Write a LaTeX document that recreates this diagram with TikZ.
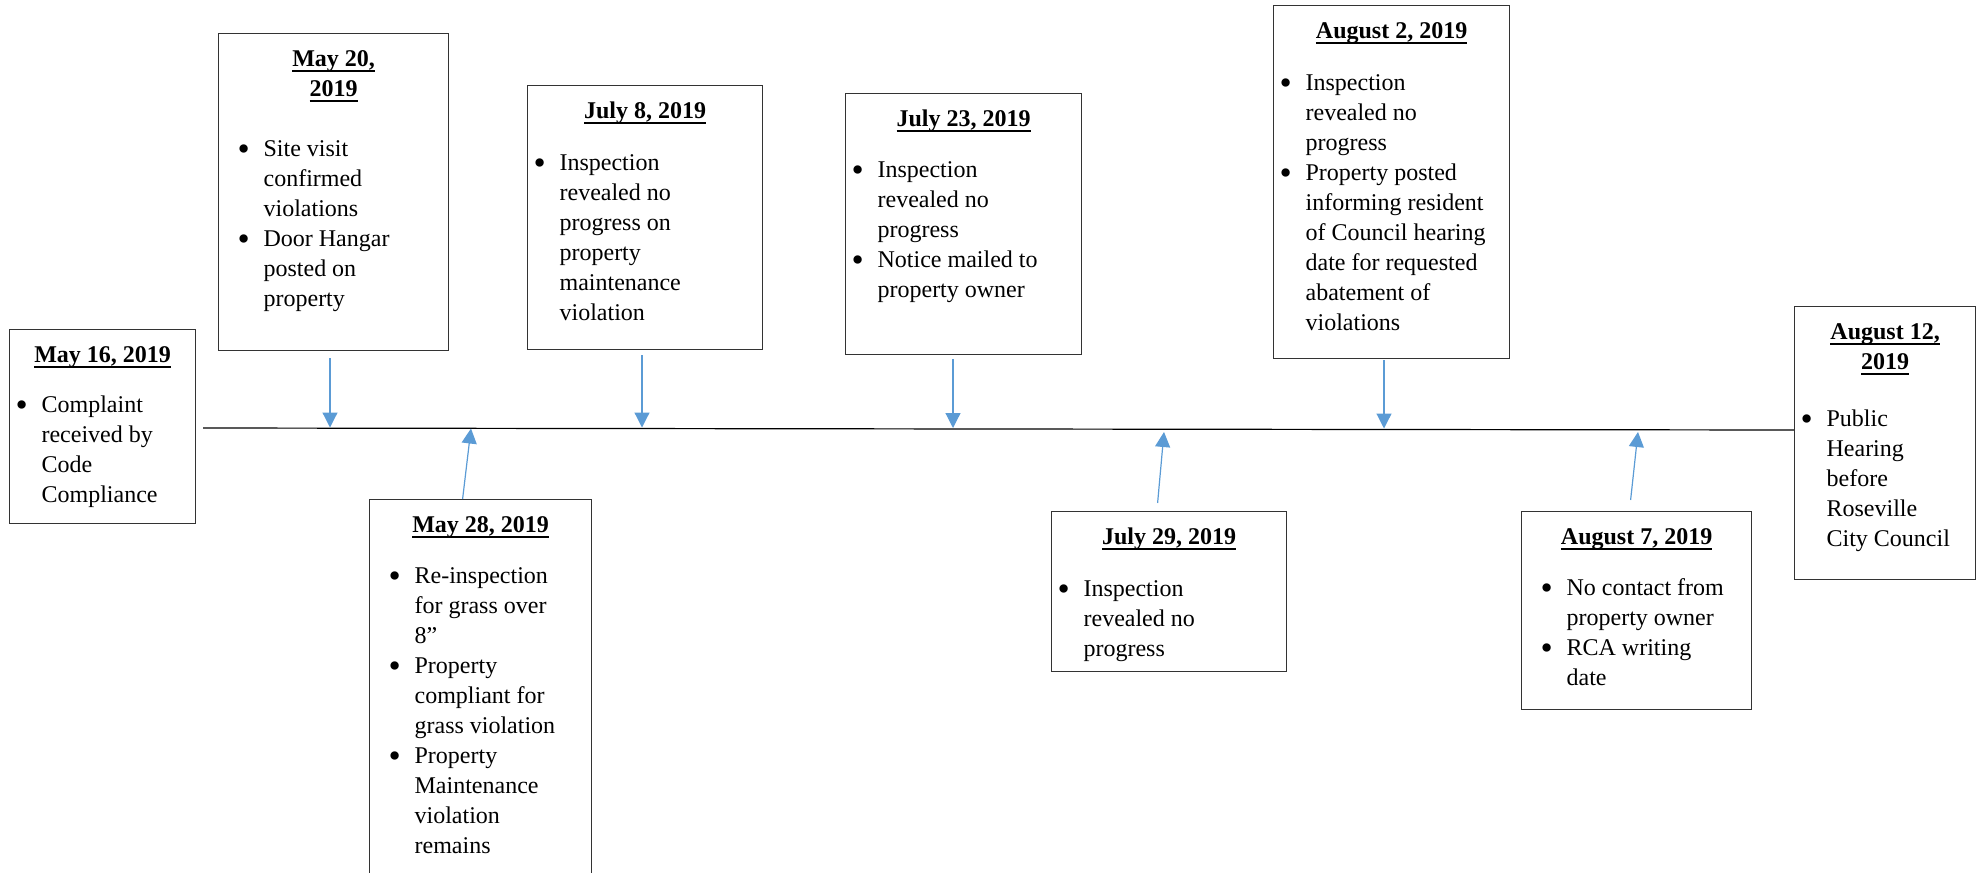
\documentclass[tikz,border=0pt]{standalone}
\usepackage{fontspec}
\usepackage{graphicx}
\setmainfont{Liberation Serif}
\usetikzlibrary{arrows.meta}
\definecolor{arrowblue}{HTML}{5B9BD5}

\newcommand{\evul}[1]{\leavevmode\setbox0=\hbox{#1}\rlap{\rule[-2.6pt]{\wd0}{1.1pt}}\box0}
\newcommand{\evitem}[1]{\par\noindent\hangindent=16pt\hangafter=1
  \hbox to 16pt{\hskip3pt\raisebox{-2pt}{\scalebox{1.45}{\textbullet}}\hss}#1\par}
% #1 width, #2 height, #3 indent, #4 gap under the date, #5 date, #6 items
\newcommand{\evtext}[6]{\parbox[c][#2][t]{#1}{\fontsize{12}{15}\selectfont
  {\centering\bfseries\rule{0pt}{16.5pt}#5\par}\vspace{#4}
  \raggedright\leftskip=#3\relax #6}}

\begin{document}
\begin{tikzpicture}[x=0.5pt,y=-0.5pt,
  evbox/.style={draw=black!80,line width=0.6pt,inner sep=0pt,anchor=north west},
  evarrow/.style={draw=arrowblue,line width=0.6pt,
    -{Triangle[length=7.5pt,width=7.5pt,fill=arrowblue]}}]
  \useasboundingbox (0,0) rectangle (1982,873);

  % timeline
  \coordinate (tstart) at (203,428);
  \coordinate (tend) at (1794,430);
  \draw[line width=0.6pt] (tstart) -- (tend);

  \node[evbox] (d0516) at (9,329)
    {\evtext{93pt}{97pt}{0pt}{10pt}{\evul{May 16, 2019}}
      {\evitem{Complaint\newline received by\newline Code\newline Compliance}}};
  \node[evbox] (d0520) at (218,33)
    {\evtext{115pt}{158.5pt}{6.5pt}{15pt}{\evul{May 20,}\\\evul{2019}}
      {\evitem{Site visit\newline confirmed\newline violations}
       \evitem{Door Hangar\newline posted on\newline property}}};
  \node[evbox] (d0528) at (369,499)
    {\evtext{111pt}{193pt}{6.5pt}{10.5pt}{\evul{May 28, 2019}}
      {\evitem{Re-inspection\newline for grass over\newline 8”}
       \evitem{Property\newline compliant for\newline grass violation}
       \evitem{Property\newline Maintenance\newline violation\newline remains}}};
  \node[evbox] (d0708) at (527,85)
    {\evtext{117.5pt}{132pt}{0pt}{11pt}{\evul{July 8, 2019}}
      {\evitem{Inspection\newline revealed no\newline progress on\newline property\newline maintenance\newline violation}}};
  \node[evbox] (d0723) at (845,93)
    {\evtext{118pt}{130.5pt}{0pt}{10.5pt}{\evul{July 23, 2019}}
      {\evitem{Inspection\newline revealed no\newline progress}
       \evitem{Notice mailed to\newline property owner}}};
  \node[evbox] (d0729) at (1051,511)
    {\evtext{117.5pt}{80pt}{0pt}{11pt}{\evul{July 29, 2019}}
      {\evitem{Inspection\newline revealed no\newline progress}}};
  \node[evbox] (d0802) at (1273,5)
    {\evtext{118pt}{176.5pt}{0pt}{11pt}{\evul{August 2, 2019}}
      {\evitem{Inspection\newline revealed no\newline progress}
       \evitem{Property posted\newline informing resident\newline of Council hearing\newline date for requested\newline abatement of\newline violations}}};
  \node[evbox] (d0807) at (1521,511)
    {\evtext{115pt}{99pt}{6.5pt}{10.5pt}{\evul{August 7, 2019}}
      {\evitem{No contact from\newline property owner}
       \evitem{RCA writing\newline date}}};
  \node[evbox] (d0812) at (1794,306)
    {\evtext{90.5pt}{136.5pt}{0pt}{13.5pt}{\evul{August 12,}\\\evul{2019}}
      {\evitem{Public\newline Hearing\newline before\newline Roseville\newline City Council}}};

  % arrow tips on the timeline
  \coordinate (t0520) at (330,427.5);
  \coordinate (t0528) at (471,428.5);
  \coordinate (t0708) at (642,427.5);
  \coordinate (t0723) at (953,428);
  \coordinate (t0729) at (1164,432);
  \coordinate (t0802) at (1384,428.5);
  \coordinate (t0807) at (1638,432);

  \draw[evarrow,shorten <=3.5pt] (d0520.south -| t0520) -- (t0520);
  \draw[evarrow,shorten <=2.5pt] (d0708.south -| t0708) -- (t0708);
  \draw[evarrow,shorten <=2pt] (d0723.south -| t0723) -- (t0723);
  \draw[evarrow,shorten <=0.5pt] (d0802.south -| t0802) -- (t0802);
  \draw[evarrow] ([xshift=-9pt]d0528.north) -- (t0528);
  \draw[evarrow] ([xshift=-5.75pt,yshift=4pt]d0729.north) -- (t0729);
  \draw[evarrow] ([xshift=-3pt,yshift=5.5pt]d0807.north) -- (t0807);
\end{tikzpicture}
\end{document}
